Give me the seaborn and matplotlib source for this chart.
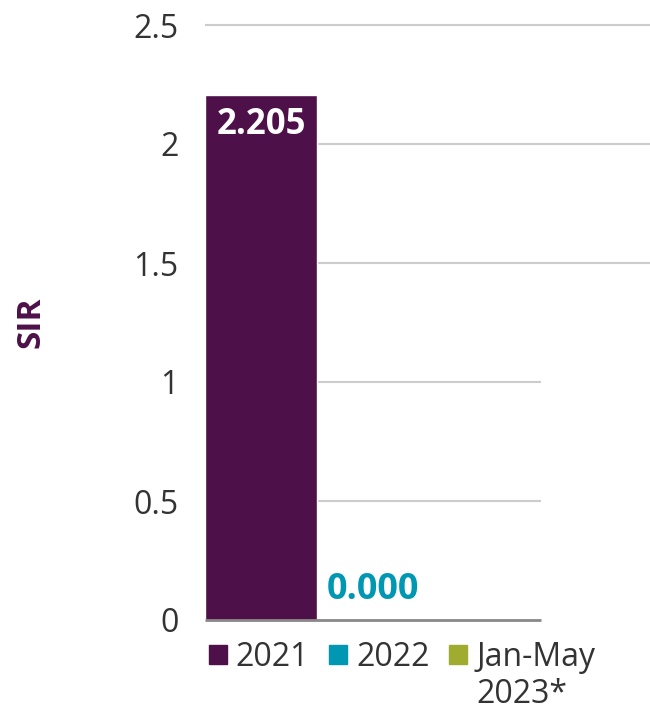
import matplotlib
matplotlib.use("Agg")
import matplotlib.pyplot as plt
import matplotlib.patches as mpatches
import pandas as pd
import seaborn as sns

categories = ["2021", "2022", "Jan-May 2023*"]
sir_values = [2.205, 0.0, float("nan")]
value_labels = ["2.205", "0.000", ""]
legend_labels = ["2021", "2022", "Jan-May"]
colors = ["#4E1049", "#0097B2", "#A0AC2F"]
yticks = [0, 0.5, 1, 1.5, 2, 2.5]

sns.set_style("white")
plt.rcParams["font.family"] = ["Open Sans", "DejaVu Sans"]

df = pd.DataFrame({"period": categories, "sir": sir_values})

fig = plt.figure(figsize=(6.5, 7.13), dpi=100)
ax = fig.add_axes([205 / 650, 1 - 620 / 713, 336 / 650, 595 / 713])

sns.barplot(data=df, x="period", y="sir", hue="period", palette=colors,
            width=1.0, legend=False, ax=ax, saturation=1)

ax.set_xlim(-0.5, 2.5)
ax.set_ylim(0, 2.5)
ax.set_yticks(yticks)
ax.set_yticklabels(["0", "0.5", "1", "1.5", "2", "2.5"])
ax.tick_params(axis="y", length=0, pad=19, labelsize=23, labelcolor="#333333")
ax.set_xticks([])
ax.set_xlabel("")
ax.set_ylabel("")
for s in ax.spines.values():
    s.set_visible(False)

fig.text(31 / 650, 1 - 322 / 713, "SIR", rotation=90, ha="center", va="center",
         fontsize=24, fontweight="bold", color="#4E1049")

# gridlines: upper ones run past the plot area, lower ones stop at it
for y in yticks[1:]:
    xmax = 3.47 if y >= 1.5 else 2.5
    ax.hlines(y, -0.5, xmax, color="#cccccc", lw=1.5, zorder=0, clip_on=False)
ax.hlines(0, -0.5, 2.5, color="#888888", lw=2, zorder=3, clip_on=False)

# value labels
ax.text(0, sir_values[0] - 0.05, value_labels[0], ha="center", va="top",
        color="white", fontsize=25, fontweight="bold")
ax.text(1, 0.05, value_labels[1], ha="center", va="bottom",
        color=colors[1], fontsize=26, fontweight="bold")

handles = [mpatches.Patch(color=c) for c in colors]
leg = fig.legend(handles, legend_labels, ncol=3, loc="upper left",
                 bbox_to_anchor=(209 / 650, 1 - 641 / 713), frameon=False,
                 fontsize=23, handlelength=0.56, handleheight=0.56,
                 handletextpad=0.28, columnspacing=0.62, labelcolor="#333333",
                 borderpad=0, borderaxespad=0)

fig.canvas.draw()
t = leg.get_texts()[2]
bb = t.get_window_extent()
fig.text(bb.x0 / 650, (bb.y0 - 4) / 713, "2023*", ha="left", va="top",
         fontsize=23, color="#333333")

fig.savefig("out.png", dpi=100)
